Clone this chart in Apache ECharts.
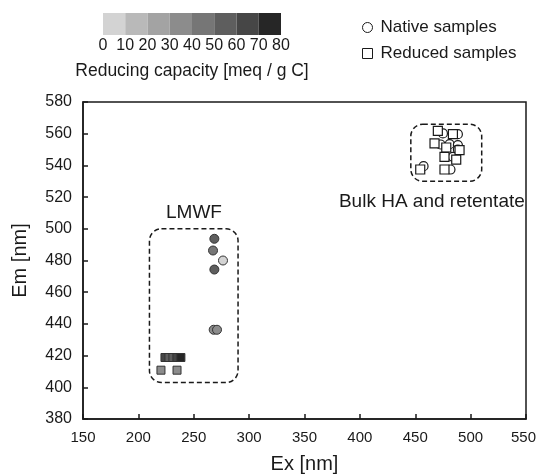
<!DOCTYPE html>
<html>
<head>
<meta charset="utf-8">
<script src="https://cdn.jsdelivr.net/npm/echarts@6/dist/echarts.min.js"></script>
<style>
  html, body { margin: 0; padding: 0; background: #fff; }
  #chart { width: 537px; height: 475px; }
</style>
</head>
<body>
<div id="chart"></div>
<script>
// bulk HA and retentate (open markers) [Ex, Em]
var bulkNative = [
  [475.0, 560.2], [488.5, 559.7], [472.8, 553.2], [481.0, 553.4],
  [488.5, 552.8], [488.5, 550.0], [484.0, 545.4], [457.5, 539.5],
  [481.8, 537.4]
]
var bulkReduced = [
  [470.4, 561.8], [484.0, 559.7], [467.4, 553.9], [490.0, 549.6],
  [478.0, 551.3], [476.4, 545.4], [487.0, 543.7], [454.5, 537.4],
  [476.4, 537.4]
]
// LMWF (filled markers) [Ex, Em, reducing capacity]
var lmwfNative = [
  [268.6, 493.7, 55], [267.4, 486.3, 40], [276.4, 480.0, 5],
  [268.6, 474.3, 55], [268.0, 436.3, 35], [271.0, 436.3, 35]
]
var lmwfReduced = [
  [224.0, 418.8, 65], [227.6, 418.8, 55], [231.2, 418.8, 55],
  [234.8, 418.8, 65], [238.4, 418.8, 75],
  [220.4, 410.8, 30], [234.9, 410.8, 30]
]
// dashed boxes [x0, x1, y0, y1] and their labels [x, y]
var boxes = [[210, 290, 403, 500], [446, 510, 530, 566]]
var boxLabels = ['LMWF', 'Bulk HA and retentate']
var boxLabelPos = [[250.2, 510], [465, 517.3]]

// reducing capacity colour scale
var capEdges = [0, 10, 20, 30, 40, 50, 60, 70, 80]
var capColors = ['#d3d3d3', '#b9b9b9', '#a3a3a3', '#8c8c8c', '#767676', '#5e5e5e', '#464646', '#262626']

var font = 'Liberation Sans, Arial, sans-serif'
var ink = '#1a1a1a'

var pieces = []
var barData = []
for (var i = 0; i < capColors.length; i++) {
  pieces.push({ gte: capEdges[i], lt: capEdges[i + 1], color: capColors[i] })
  barData.push([capEdges[i], capEdges[i + 1], 0, 1])
}
pieces[pieces.length - 1].lte = 80
delete pieces[pieces.length - 1].lt

var boxData = boxes.map(function (b, i) {
  return [b[0], b[1], b[2], b[3], boxLabelPos[i][0], boxLabelPos[i][1]]
})

var chart = echarts.init(document.getElementById('chart'))
chart.setOption({
  animation: false,
  textStyle: { fontFamily: font, color: ink },
  grid: [
    { left: 83, top: 102, width: 443, height: 317, show: true, borderColor: ink, borderWidth: 1.5, outerBoundsMode: 'none', containLabel: false },
    { left: 103, top: 13, width: 178, height: 22, outerBoundsMode: 'none', containLabel: false }
  ],
  xAxis: [
    {
      type: 'value', gridIndex: 0, min: 150, max: 550, interval: 50,
      name: 'Ex [nm]', nameLocation: 'middle', nameGap: 35,
      nameTextStyle: { fontSize: 20, color: ink, fontFamily: font },
      axisLine: { show: true, lineStyle: { color: ink, width: 1.5 } },
      axisTick: { show: true, inside: true, length: 5, lineStyle: { color: ink, width: 1.5 } },
      axisLabel: {
        fontSize: 15, color: ink, margin: 11, fontFamily: font,
        // keep the last label inside the canvas
        formatter: function (v) { return v === 550 ? '{last|' + v + '}' : String(v) },
        rich: { last: { fontSize: 15, color: ink, fontFamily: font, padding: [0, 5, 0, 0] } }
      },
      splitLine: { show: false }
    },
    {
      type: 'value', gridIndex: 1, min: 0, max: 80, interval: 10,
      name: 'Reducing capacity [meq / g C]', nameLocation: 'middle', nameGap: 27,
      nameTextStyle: { fontSize: 17.5, color: ink, fontFamily: font },
      axisLine: { show: false }, axisTick: { show: false },
      axisLabel: { fontSize: 16, color: ink, margin: 3, fontFamily: font },
      splitLine: { show: false }
    }
  ],
  yAxis: [
    {
      type: 'value', gridIndex: 0, min: 380, max: 580, interval: 20,
      name: 'Em [nm]', nameLocation: 'middle', nameGap: 53,
      nameTextStyle: { fontSize: 20, color: ink, fontFamily: font },
      axisLine: { show: true, lineStyle: { color: ink, width: 1.5 } },
      axisTick: { show: true, inside: true, length: 5, lineStyle: { color: ink, width: 1.5 } },
      axisLabel: { fontSize: 16, color: ink, margin: 11, fontFamily: font },
      splitLine: { show: false }
    },
    { type: 'value', gridIndex: 1, min: 0, max: 1, show: false }
  ],
  legend: {
    orient: 'vertical', left: 357, top: 14, itemGap: 9,
    itemWidth: 10, itemHeight: 10,
    itemStyle: { borderWidth: 1 },
    textStyle: { fontSize: 17, color: ink, fontFamily: font, padding: [0, 0, 0, 3] },
    data: ['Native samples', 'Reduced samples']
  },
  visualMap: {
    type: 'piecewise', show: false, dimension: 2,
    seriesIndex: [2, 3], pieces: pieces
  },
  series: [
    {
      name: 'Native samples', type: 'scatter', symbol: 'circle', symbolSize: 9,
      itemStyle: { color: '#fff', borderColor: ink, borderWidth: 1.2, opacity: 1 },
      data: bulkNative, z: 3
    },
    {
      name: 'Reduced samples', type: 'scatter', symbol: 'rect', symbolSize: 9,
      itemStyle: { color: '#fff', borderColor: ink, borderWidth: 1.2, opacity: 1 },
      data: bulkReduced, z: 3
    },
    {
      name: 'LMWF native', type: 'scatter', symbol: 'circle', symbolSize: 9,
      itemStyle: { borderColor: '#333', borderWidth: 1, opacity: 1 },
      data: lmwfNative, z: 3
    },
    {
      name: 'LMWF reduced', type: 'scatter', symbol: 'rect', symbolSize: 8,
      itemStyle: { borderColor: '#333', borderWidth: 1, opacity: 1 },
      data: lmwfReduced, z: 3
    },
    {
      name: 'boxes', type: 'custom', xAxisIndex: 0, yAxisIndex: 0,
      encode: { x: [0, 1, 4], y: [2, 3, 5] },
      data: boxData, z: 2,
      renderItem: function (params, api) {
        var p0 = api.coord([api.value(0), api.value(3)])
        var p1 = api.coord([api.value(1), api.value(2)])
        var pt = api.coord([api.value(4), api.value(5)])
        return {
          type: 'group',
          children: [
            {
              type: 'rect',
              shape: { x: p0[0], y: p0[1], width: p1[0] - p0[0], height: p1[1] - p0[1], r: 12 },
              style: { fill: 'none', stroke: ink, lineWidth: 1.5, lineDash: [5, 3] }
            },
            {
              type: 'text',
              style: {
                x: pt[0], y: pt[1], text: boxLabels[params.dataIndex],
                align: 'center', verticalAlign: 'middle',
                fontSize: 19, fontFamily: font, fill: ink
              }
            }
          ]
        }
      }
    },
    {
      name: 'colorbar', type: 'custom', xAxisIndex: 1, yAxisIndex: 1,
      encode: { x: [0, 1], y: [2, 3] },
      data: barData,
      renderItem: function (params, api) {
        var p0 = api.coord([api.value(0), api.value(3)])
        var p1 = api.coord([api.value(1), api.value(2)])
        return {
          type: 'rect',
          shape: { x: p0[0], y: p0[1], width: p1[0] - p0[0], height: p1[1] - p0[1] },
          style: { fill: capColors[params.dataIndex] }
        }
      }
    }
  ]
})
</script>
</body>
</html>
